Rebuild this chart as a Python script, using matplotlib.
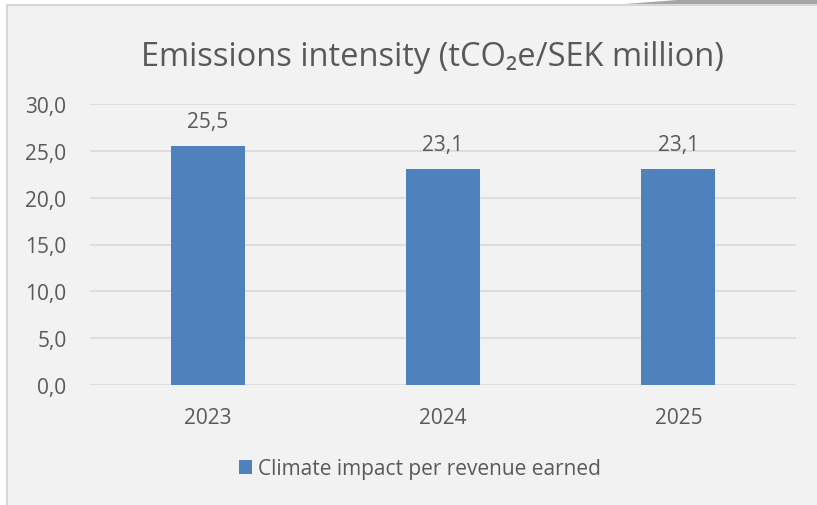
import matplotlib
matplotlib.use("Agg")
import matplotlib.pyplot as plt
from matplotlib.patches import Rectangle, Polygon

# chart data
years = ["2023", "2024", "2025"]
values = [25.5, 23.1, 23.1]
value_labels = ["25,5", "23,1", "23,1"]
y_ticks = [0, 5, 10, 15, 20, 25, 30]
y_tick_labels = ["0,0", "5,0", "10,0", "15,0", "20,0", "25,0", "30,0"]
series_name = "Climate impact per revenue earned"
title = "Emissions intensity (tCO\u2082e/SEK million)"

bar_color = "#4f81bd"
text_color = "#595959"
grid_color = "#d9d9d9"
bg_color = "#f2f2f2"

plt.rcParams['font.family'] = ['Open Sans', 'DejaVu Sans']

fig = plt.figure(figsize=(8.17, 5.06), dpi=100)
fig.patch.set_facecolor("white")

# chart area box with light border
fig.patches.append(Rectangle((7 / 817, -0.01), 1.0, 1 - 6 / 506 + 0.01,
                             transform=fig.transFigure, facecolor=bg_color,
                             edgecolor="#d0d0d0", linewidth=1.2, zorder=0))
# small shadow piece in the top right corner
fig.patches.append(Polygon([(625 / 817, 1 - 5 / 506), (817 / 817, 1 - 5 / 506),
                            (817 / 817, 1.0), (690 / 817, 1.0)],
                           closed=True, transform=fig.transFigure,
                           facecolor="#a6a6a6", edgecolor="none", zorder=1))

ax = fig.add_axes([90 / 817, 1 - 386 / 506, (796 - 90) / 817, (386 - 105) / 506])
ax.set_zorder(5)
ax.set_facecolor("none")

x = range(len(years))
bars = ax.bar(x, values, width=0.314, color=bar_color, label=series_name, zorder=3)

for i, b in enumerate(bars):
    ax.annotate(value_labels[i], (b.get_x() + b.get_width() / 2, b.get_height()),
                xytext=(0, 10), textcoords="offset points", ha="center", va="bottom",
                fontsize=15, color=text_color)

ax.set_xlim(-0.5, len(years) - 0.5)
ax.set_ylim(0, 30)
ax.set_yticks(y_ticks)
ax.set_yticklabels(y_tick_labels)
ax.set_xticks(list(x))
ax.set_xticklabels(years)
ax.tick_params(axis="both", length=0, labelsize=15, labelcolor=text_color)
ax.tick_params(axis="y", pad=17)
ax.tick_params(axis="x", pad=16)
ax.grid(axis="y", color=grid_color, linewidth=1.2, zorder=0)
for s in ax.spines.values():
    s.set_visible(False)

fig.text(432 / 817, 1 - 57 / 506, title, ha="center", va="center",
         fontsize=23.5, color=text_color, zorder=6)

leg = fig.legend(loc="center", bbox_to_anchor=(420 / 817, 1 - 470 / 506),
                 frameon=False, fontsize=15, handlelength=0.65, handleheight=0.65,
                 handletextpad=0.3)
leg.set_zorder(6)
for t in leg.get_texts():
    t.set_color(text_color)

fig.savefig("out.png", dpi=100, facecolor=fig.get_facecolor())
